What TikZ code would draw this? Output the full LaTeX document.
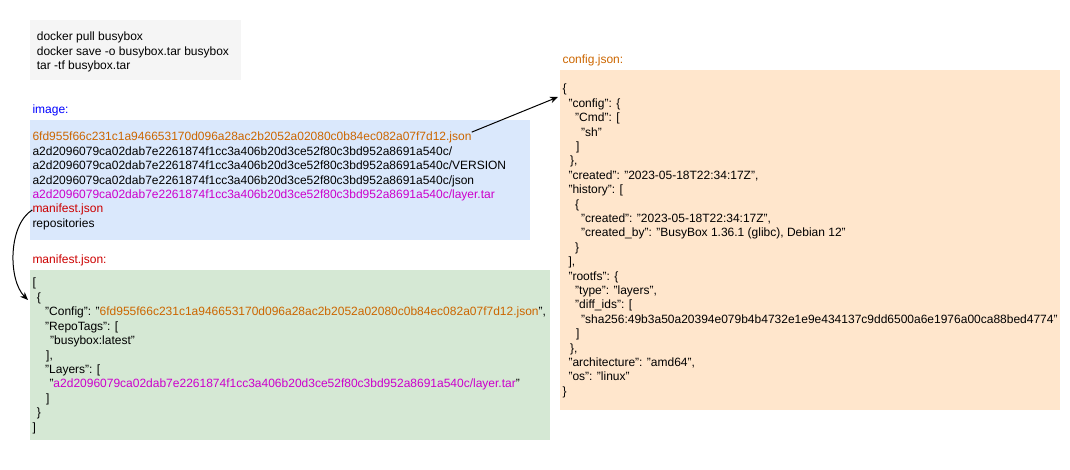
\documentclass[tikz,border=0pt]{standalone}
\usepackage{fontspec}
\setmainfont{Liberation Sans}
\usetikzlibrary{arrows.meta}
\definecolor{cOrange}{HTML}{CC6600}
\definecolor{cMagenta}{HTML}{CC00CC}
\definecolor{cRed}{HTML}{CC0000}
\definecolor{cBlue}{HTML}{0000FF}
\definecolor{fGray}{HTML}{F5F5F5}
\definecolor{fBlue}{HTML}{DAE8FC}
\definecolor{fGreen}{HTML}{D5E8D4}
\definecolor{fPeach}{HTML}{FFE6CC}
\begin{document}
\begin{tikzpicture}[x=1pt,y=-1pt,
  txt/.style={anchor=base west,inner sep=0pt,font=\fontsize{12}{14.4}\selectfont},
  panel/.style={draw=none,inner sep=0pt,anchor=north west},
  link/.style={-{Stealth[length=8pt,width=6.5pt]},line width=1pt,black}]
\useasboundingbox (0,0) rectangle (1070,470);

% panels
\node[panel,fill=fGray,minimum width=211pt,minimum height=60pt] (cmdbox) at (30,20) {};
\node[panel,fill=fBlue,minimum width=500pt,minimum height=120pt] (imgbox) at (30,120) {};
\node[panel,fill=fGreen,minimum width=520pt,minimum height=170pt] (manbox) at (30,270) {};
\node[panel,fill=fPeach,minimum width=500pt,minimum height=340pt] (cfgbox) at (560,70) {};

% commands
\node[txt] (cmd1) at (36.7,41) {docker pull busybox};
\node[txt] (cmd2) at (36.7,55.4) {docker save -o busybox.tar busybox};
\node[txt] (cmd3) at (36.7,69.8) {tar -tf busybox.tar};

% image
\node[txt,text=cBlue] (imglbl) at (32.3,113.3) {image:};
\node[txt,text=cOrange] (img1) at (32.3,141) {6fd955f66c231c1a946653170d096a28ac2b2052a02080c0b84ec082a07f7d12.json};
\node[txt] (img2) at (32.3,155.4) {a2d2096079ca02dab7e2261874f1cc3a406b20d3ce52f80c3bd952a8691a540c/};
\node[txt] (img3) at (32.3,169.8) {a2d2096079ca02dab7e2261874f1cc3a406b20d3ce52f80c3bd952a8691a540c/VERSION};
\node[txt] (img4) at (32.3,184.2) {a2d2096079ca02dab7e2261874f1cc3a406b20d3ce52f80c3bd952a8691a540c/json};
\node[txt,text=cMagenta] (img5) at (32.3,198.6) {a2d2096079ca02dab7e2261874f1cc3a406b20d3ce52f80c3bd952a8691a540c/layer.tar};
\node[txt,text=cRed] (img6) at (32.3,213) {manifest.json};
\node[txt] (img7) at (32.3,227.4) {repositories};

% manifest
\node[txt,text=cRed] (manlbl) at (32.3,263.3) {manifest.json:};
\node[txt] (man0) at (32.3,287) {[};
\node[txt] (man1) at (36.7,301.4) {\{};
\node[txt] (man2) at (45,315.8) {"Config": "\textcolor{cOrange}{6fd955f66c231c1a946653170d096a28ac2b2052a02080c0b84ec082a07f7d12.json}",};
\node[txt] (man3) at (45,330.2) {"RepoTags": [};
\node[txt] (man4) at (50,344.6) {"busybox:latest"};
\node[txt] (man5) at (46,359) {],};
\node[txt] (man6) at (45,373.4) {"Layers": [};
\node[txt] (man7) at (49.3,387.8) {"\textcolor{cMagenta}{a2d2096079ca02dab7e2261874f1cc3a406b20d3ce52f80c3bd952a8691a540c/layer.tar}"};
\node[txt] (man8) at (46,402.2) {]};
\node[txt] (man9) at (36.7,416.6) {\}};
\node[txt] (man10) at (32.3,431) {]};

% config
\node[txt,text=cOrange] (cfglbl) at (562.3,63.3) {config.json:};
\node[txt] (cfg0) at (562.3,92.9) {\{};
\node[txt] (cfg1) at (568.3,107.3) {"config": \{};
\node[txt] (cfg2) at (575,121.7) {"Cmd": [};
\node[txt] (cfg3) at (581,136.1) {"sh"};
\node[txt] (cfg4) at (576,150.5) {]};
\node[txt] (cfg5) at (570,164.9) {\},};
\node[txt] (cfg6) at (568.3,179.3) {"created": "2023-05-18T22:34:17Z",};
\node[txt] (cfg7) at (568.3,193.7) {"history": [};
\node[txt] (cfg8) at (575,208.1) {\{};
\node[txt] (cfg9) at (581,222.5) {"created": "2023-05-18T22:34:17Z",};
\node[txt] (cfg10) at (581,236.9) {"created\_by": "BusyBox 1.36.1 (glibc), Debian 12"};
\node[txt] (cfg11) at (575,251.3) {\}};
\node[txt] (cfg12) at (568.3,265.7) {],};
\node[txt] (cfg13) at (568.3,280.1) {"rootfs": \{};
\node[txt] (cfg14) at (575,294.5) {"type": "layers",};
\node[txt] (cfg15) at (575,308.9) {"diff\_ids": [};
\node[txt] (cfg16) at (581,323.3) {"sha256:49b3a50a20394e079b4b4732e1e9e434137c9dd6500a6e1976a00ca88bed4774"};
\node[txt] (cfg17) at (576,337.7) {]};
\node[txt] (cfg18) at (570,352.1) {\},};
\node[txt] (cfg19) at (568.3,366.5) {"architecture": "amd64",};
\node[txt] (cfg20) at (568.3,380.9) {"os": "linux"};
\node[txt] (cfg21) at (562.3,395.3) {\}};

% connectors
\coordinate (cfgin) at (558,97);
\coordinate (manin) at (28,300);
\draw[link] (img1.north east) -- (cfgin);
\draw[link] (img6.west) .. controls (8,225) and (8,280) .. (manin);
\end{tikzpicture}
\end{document}
